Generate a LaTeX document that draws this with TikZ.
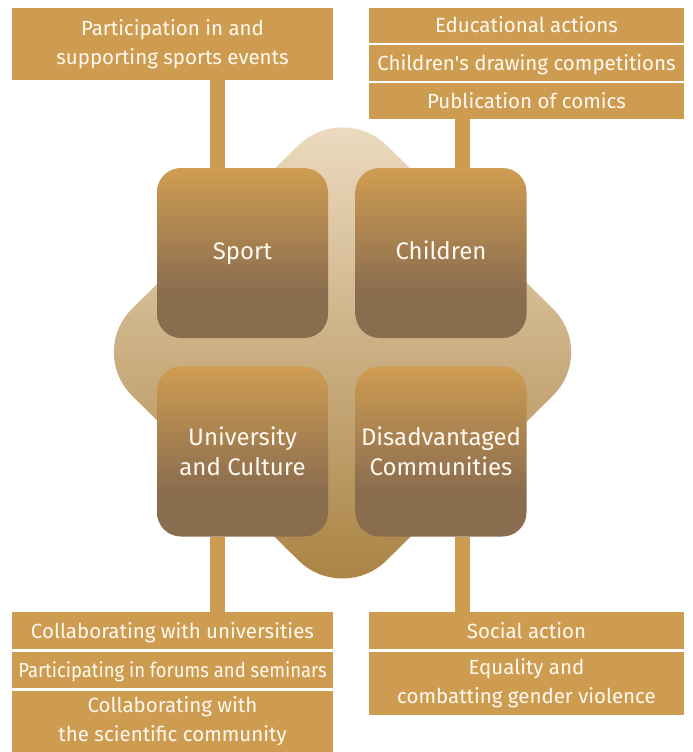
\documentclass[tikz,border=0pt]{standalone}
\usepackage{fontspec}
\setmainfont{Fira Sans}
\usetikzlibrary{calc}
\definecolor{boxc}{HTML}{CE9C51}
\definecolor{txt}{HTML}{FFF9F0}
\definecolor{sqlight}{HTML}{CF9D52}
\definecolor{sqdark}{HTML}{8A6C4F}
\definecolor{bgtop}{HTML}{EFDFC6}
\definecolor{bgmid}{HTML}{C6A577}
\definecolor{bgbot}{HTML}{A77F3E}
\pgfdeclareverticalshading{sqshade}{100bp}{color(0bp)=(sqdark); color(38bp)=(sqdark); color(75bp)=(sqlight); color(100bp)=(sqlight)}
\begin{document}
\begin{tikzpicture}[x=1pt,y=-1pt,
  itembox/.style={fill=boxc, text=txt, inner sep=0pt, align=center,
     font=\fontsize{20.5}{29}\selectfont},
  oneline/.style={text height=22pt, text depth=7pt},
  square/.style={shading=sqshade, rounded corners=24pt, minimum width=171pt,
     minimum height=170pt, inner sep=0pt, text=txt, align=center,
     font=\fontsize{24}{30}\selectfont},
  stem/.style={draw=boxc, line width=15pt}]
\useasboundingbox (0,0) rectangle (693,752);
% background rounded diamond
\shade[top color=bgtop, middle color=bgmid, bottom color=bgbot, rounded corners=62pt]
  (342.5,102) -- (597,352) -- (342.5,604) -- (88,352) -- cycle;
% item boxes
\node[itembox, minimum width=321pt, minimum height=72pt] (tl) at (172.5,44) {Participation in and\\supporting sports events};
\node[itembox, oneline, minimum width=315pt, minimum height=35pt] (tr1) at (526.5,25.5) {Educational actions};
\node[itembox, oneline, minimum width=315pt, minimum height=36pt] (tr2) at (526.5,63) {Children\textquotesingle s drawing competitions};
\node[itembox, oneline, minimum width=315pt, minimum height=36pt] (tr3) at (526.5,101) {Publication of comics};
\node[itembox, oneline, minimum width=321pt, minimum height=37pt] (bl1) at (172.5,630.5) {Collaborating with universities};
\node[itembox, oneline, minimum width=321pt, minimum height=36pt] (bl2) at (172.5,670) {\scalebox{0.9}[1]{Participating in forums and seminars}};
\node[itembox, minimum width=321pt, minimum height=61pt] (bl3) at (172.5,721.5) {Collaborating with\\the scientific community};
\node[itembox, oneline, minimum width=315pt, minimum height=37pt] (br1) at (526.5,630.5) {Social action};
\node[itembox, minimum width=315pt, minimum height=63pt] (br2) at (526.5,683.5) {Equality and\\combatting gender violence};
% squares
\node[square] (sport) at (242.5,253) {\strut Sport};
\node[square] (child) at (441,253) {\strut Children};
\node[square] (univ) at (242.5,451.5) {University\\and Culture};
\node[square] (dis) at (441,451.5) {Disadvantaged\\Communities};
% stems
\draw[stem] ([xshift=-25pt]sport.north) -- ([xshift=-25pt]sport.north |- tl.south);
\draw[stem] ([xshift=21.5pt]child.north) -- ([xshift=21.5pt]child.north |- tr3.south);
\draw[stem] ([xshift=-25pt]univ.south) -- ([xshift=-25pt]univ.south |- bl1.north);
\draw[stem] ([xshift=21.5pt]dis.south) -- ([xshift=21.5pt]dis.south |- br1.north);
\end{tikzpicture}
\end{document}
